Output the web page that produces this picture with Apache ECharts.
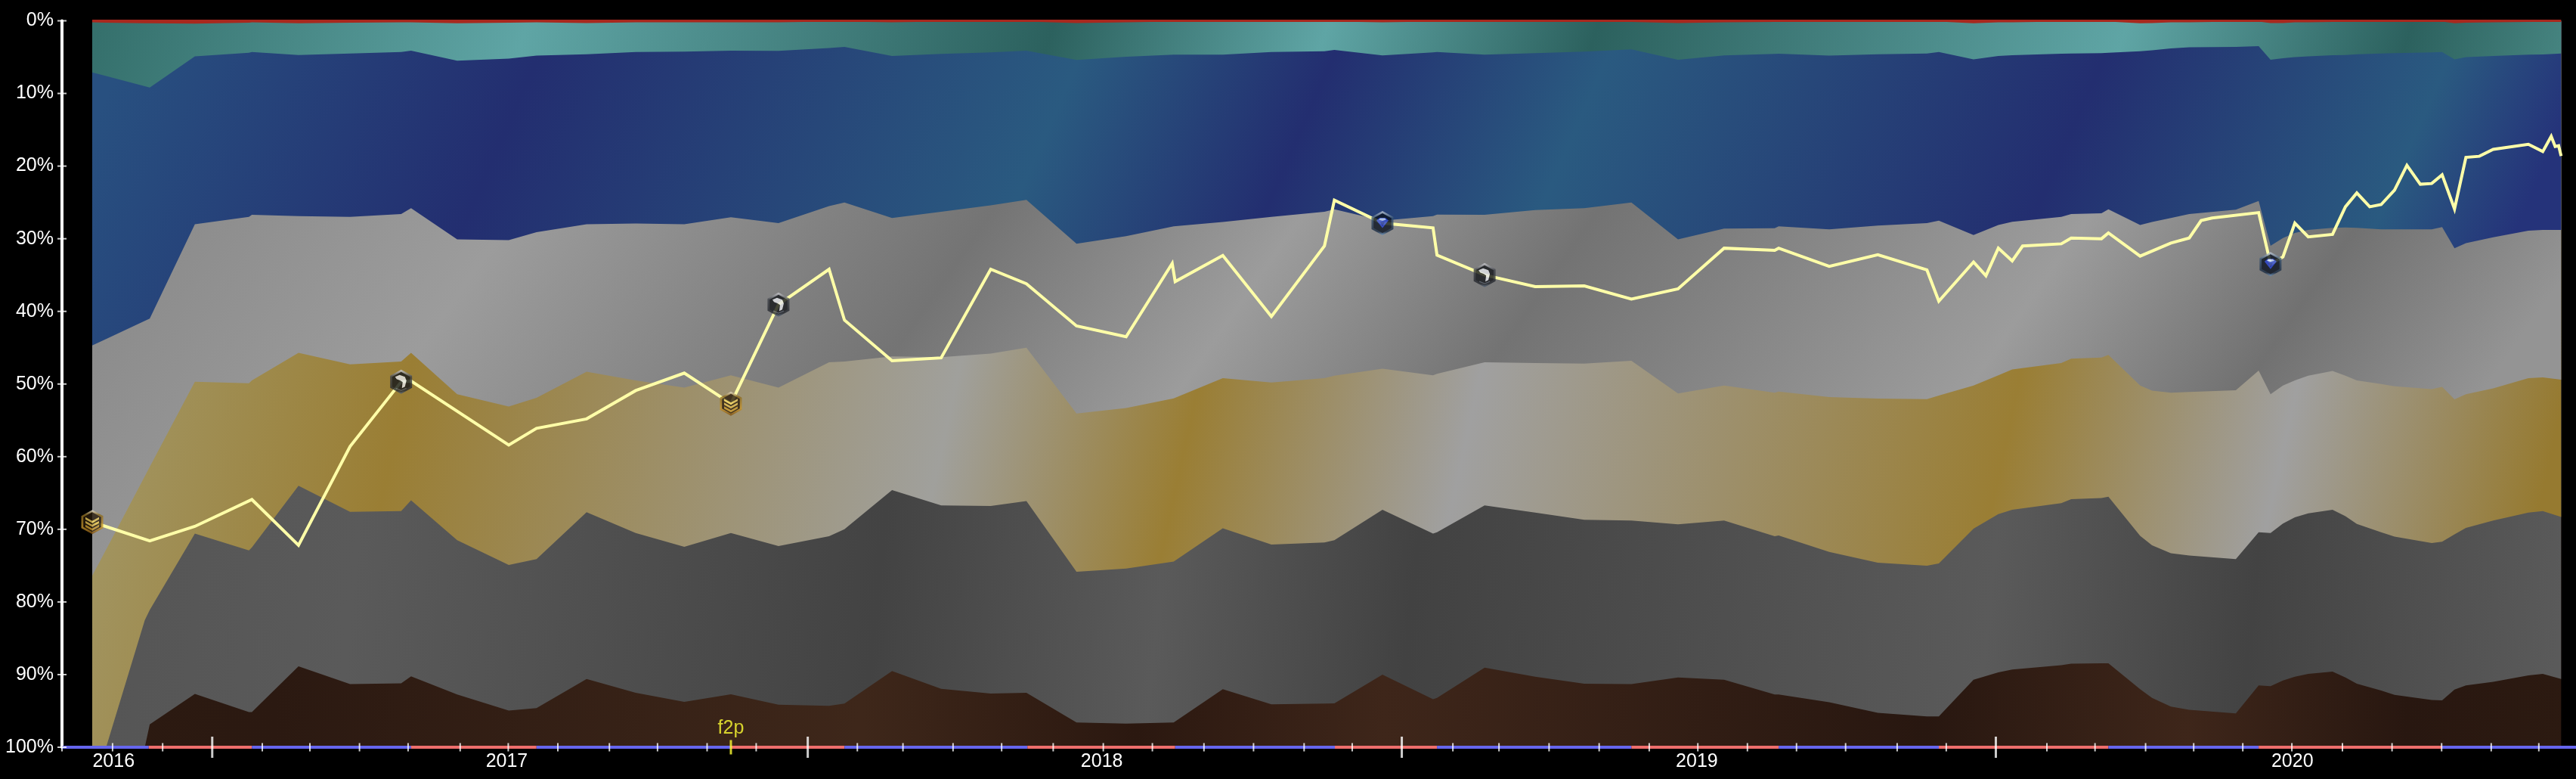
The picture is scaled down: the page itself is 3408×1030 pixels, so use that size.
<!DOCTYPE html>
<html>
<head>
<meta charset="utf-8">
<style>html,body{margin:0;padding:0;background:#000}#c{width:3408px;height:1030px}</style>
<script src="https://cdn.jsdelivr.net/npm/echarts@6/dist/echarts.min.js"></script>
</head>
<body>
<div id="c"></div>
<script>
// x unit: months since January 2016
const bandMonths = [
 3.61,3.89,4.67,4.77,5.68,6.77,6.83,7.77,8.81,9.84,
 10.04,10.97,12.01,12.57,13.58,14.57,15.55,16.49,17.45,18.47,
 18.78,19.74,20.73,21.73,22.45,23.46,24.46,25.42,26.41,27.39,
 28.46,28.66,29.63,30.65,30.73,31.69,32.71,33.70,34.65,35.59,
 36.52,37.54,37.62,38.64,39.62,40.61,40.85,41.55,42.05,42.33,
 43.32,43.52,44.13,44.27,44.91,45.15,45.53,45.90,46.84,47.30,
 47.54,47.79,48.03,48.30,48.79,49.05,49.28,49.77,50.04,50.79,
 51.00,51.25,51.48,52.03,52.74,53.03,53.40];
// lower edge of each band, in cumulative percent from the top
const redEdge = [
 .2,.25,.33,.35,.4,.25,.2,.35,.25,.2,
 .2,.35,.25,.2,.3,.2,.2,.2,.2,.1,
 .1,.2,.1,.1,.1,.3,.2,.1,.15,.1,
 .1,.1,.2,.1,.1,.1,.1,.1,.15,.3,
 .2,.15,.15,.1,.1,.1,.1,.35,.2,.2,
 .1,.1,.1,.1,.35,.3,.2,.2,.1,.1,
 .3,.3,.2,.2,.15,.15,.15,.1,.1,.1,
 .1,.35,.25,.2,.15,.15,.1];
const tealEdge = [
 7.1,7.6,9.0,9.2,4.9,4.4,4.3,4.7,4.5,4.3,
 4.1,5.5,5.2,4.8,4.6,4.3,4.25,4.1,4.15,3.75,
 3.6,4.85,4.56,4.35,4.1,5.4,4.95,4.67,4.67,4.3,
 4.2,4.0,4.77,4.35,4.3,4.67,4.46,4.25,3.94,5.36,
 4.77,4.56,4.53,4.8,4.6,4.5,4.3,5.3,4.85,4.74,
 4.53,4.5,4.45,4.4,4.2,4.05,3.8,3.65,3.6,3.5,
 5.36,5.15,5.0,4.9,4.74,4.7,4.6,4.5,4.45,4.35,
 4.3,5.3,5.0,4.85,4.65,4.63,4.5];
const blueEdge = [
 44.7,43.8,41.3,41.0,28,27,26.7,26.9,27,26.6,
 25.8,30.1,30.2,29.1,28,27.9,28,27.05,27.85,25.5,
 25,27.15,26.3,25.4,24.65,30.7,29.65,28.3,27.7,27,
 26.3,25.95,27.5,26.9,26.67,26.7,26.05,25.8,25,30.1,
 28.6,28.55,28.3,28.7,28.2,27.85,27.5,29.5,28.1,27.67,
 27,26.6,26.5,25.95,28.1,27.7,27.15,26.6,26,24.8,
 30.97,29.9,29.2,28.8,28.5,28.45,28.5,28.7,28.7,28.7,
 28.4,31.3,30.6,29.8,28.9,28.8,28.8];
const silverEdge = [
 76.4,72.8,62.7,61.4,49.7,49.9,49.5,45.7,47.3,46.9,
 45.7,51.4,53.1,51.9,48.3,49.5,50.5,48.8,50.5,47,
 46.9,46.2,46.3,45.8,45,54.05,53.3,51.97,49.2,49.8,
 49.2,48.85,47.9,48.8,48.6,47,47.1,47.2,46.8,51.3,
 50.2,51.2,51.05,51.8,52,52.07,51.6,50.2,48.8,48,
 47.1,46.5,46.35,46,50.2,50.9,51.2,51.1,50.85,48.15,
 51.4,50.2,49.5,48.85,48.2,48.85,49.5,50,50.3,50.7,
 50.4,52.1,51.4,50.6,49.2,49.1,49.4];
const goldEdge = [
 100,100,82.5,81.1,70.6,72.9,72.5,64,67.6,67.5,
 66,71.5,74.9,74.1,67.65,70.5,72.4,70.5,72.3,70.95,
 70,64.6,66.7,66.8,66.1,75.85,75.4,74.45,69.85,72.1,
 71.8,71.5,67.3,70.6,70.4,66.7,67.7,68.7,68.8,69.3,
 68.8,70.95,70.85,73.1,74.6,75,74.7,69.9,67.9,67.3,
 66.4,65.85,65.7,65.5,70.9,72.2,73.3,73.6,74.1,70.4,
 70.5,69.2,68.35,67.8,67.3,68.2,69.25,70.4,71,71.9,
 71.7,70.7,69.8,68.8,67.7,67.5,68.3];
const darkEdge = [
 100,100,100,96.85,92.65,95.15,95.15,88.85,91.3,91.2,
 90.25,92.75,94.95,94.6,90.6,92.5,93.75,92.7,94.15,94.3,
 94,89.5,91.95,92.6,92.5,96.6,96.75,96.6,92,94.1,
 94,93.95,90,93.4,93.2,89.05,90.3,91.25,91.3,90.4,
 90.7,92.75,92.75,93.8,95.25,95.75,95.75,90.7,89.7,89.3,
 88.7,88.5,88.45,88.45,92,93.2,94.4,94.85,95.35,91.5,
 91.6,90.8,90.3,89.9,89.6,90.4,91.25,92.2,92.8,93.5,
 93.55,92.05,91.5,91,90.1,89.9,90.6];
const brownEdge = bandMonths.map(() => 100);
const topEdge = bandMonths.map(() => 0);

const lineMonths = [
 3.61,4.77,5.68,6.83,7.77,8.81,9.84,10.04,12.01,12.57,13.58,14.57,15.55,16.49,17.45,18.47,18.78,
 19.74,20.73,21.73,22.45,23.46,24.46,25.39,25.45,26.41,27.39,28.46,28.66,29.63,30.65,30.73,31.69,
 32.71,33.70,34.65,35.59,36.52,37.54,37.62,38.64,39.62,40.61,40.85,41.55,41.80,42.05,42.33,42.54,
 43.32,43.52,44.13,44.27,44.91,45.53,45.90,46.14,46.36,47.30,47.54,47.79,48.03,48.30,48.79,49.05,
 49.28,49.54,49.77,50.04,50.29,50.56,50.79,51.00,51.25,51.48,51.75,52.03,52.74,53.03,53.20,53.28,53.35,53.40];
const lineValues = [
 69,71.6,69.6,65.9,72.2,58.6,49.7,49.6,58.4,56.1,54.8,50.9,48.5,52.7,39.06,34.2,41.2,
 46.8,46.4,34.2,36.2,42,43.5,33.4,35.9,32.3,40.7,31,24.7,27.85,28.5,32.25,35,
 36.6,36.5,38.3,36.9,31.3,31.6,31.3,33.8,32.2,34.3,38.6,33.2,35.1,31.3,33.05,31,
 30.7,29.9,30,29.2,32.4,30.6,29.9,27.5,27.15,26.4,33.5,32.5,27.85,29.75,29.4,25.6,
 23.7,25.6,25.3,23.3,19.9,22.5,22.4,21.2,25.9,18.8,18.65,17.7,17,18,15.9,17.3,17.2,18.6];

const goldRankPoints = [[3.61,69],[16.49,52.7]];
const eagleRankPoints = [[9.84,49.7],[17.45,39.06],[31.69,35]];
const diamondRankPoints = [[29.63,27.85],[47.54,33.5]];

const yTicks = [0,10,20,30,40,50,60,70,80,90,100];
const yearTicks = [4.04,11.97,23.97,35.97,47.98];
const yearLabels = ['2016','2017','2018','2019','2020'];
const minorTicks = [3,4.02,5.03,7.04,8,9,9.98,11.03,12,13,14.04,15.01,16.01,17,
 19.04,19.96,20.97,21.95,22.99,24,24.99,26.03,27.03,28.05,29.02,31.05,31.98,32.99,34,35.01,35.99,
 36.99,37.98,38.97,40.01,41,43.03,44,45.02,45.99,46.98,47.97,48.99,49.99,50.99,51.99,52.95];
const majorTicks = [6.03,18.04,30.02,42];
const f2pMonth = [16.49];
const seasonEdges = [3,4.75,6.83,10.04,12.57,16.49,18.78,22.47,25.45,28.67,30.73,34.65,37.62,40.85,44.27,47.3,51,53.7];

const W = 3408, PLOT_L = 82, PLOT_T = 27.5, PLOT_B = 988;
const chart = echarts.init(document.getElementById('c'), null, {renderer:'canvas', width:W, height:1030});

// horizontal ramp with a small tilt: stops are [x in px, colour] at height midY, tilt is the x shift per y px
function ramp(stops, midY, tilt) {
  const x0 = stops[0][0], x1 = stops[stops.length-1][0], span = x1 - x0, k = span/(1+tilt*tilt);
  return new echarts.graphic.LinearGradient(x0, midY, x0+k, midY+tilt*k,
    stops.map(s => ({offset:(s[0]-x0)/span, color:s[1]})), true);
}

function band(name, values, fill) {
  return {name, type:'line', data: bandMonths.map((m,i)=>[m,values[i]]), symbol:'none', silent:true, z:1,
    lineStyle:{width:0}, areaStyle:{origin:'start', color:fill, opacity:1}, animation:false};
}

function icon(defs, inner, rim) {
  const svg = `<svg xmlns="http://www.w3.org/2000/svg" width="30" height="33" viewBox="0 0 30 33"><defs>${defs}</defs>`+
   `<path d="M15 0.5L29.5 8.5V24.5L15 32.5L0.5 24.5V8.5Z" fill="url(#r)"/>`+
   `<path d="M15 3.5L26.8 10V23L15 29.5L3.2 23V10Z" fill="${rim}"/>${inner}</svg>`;
  return 'image://data:image/svg+xml;charset=utf-8,'+encodeURIComponent(svg);
}
const chev = (y,c) => `<path d="M6 ${y}L15 ${y+5}L24 ${y}V${y+3}L15 ${y+8}L6 ${y+3}Z" fill="${c}"/>`;
const goldIcon = icon('<linearGradient id="r" x1="0" y1="0" x2="0" y2="1"><stop offset="0" stop-color="#f0eadc"/><stop offset=".2" stop-color="#8a6a20"/><stop offset=".7" stop-color="#c8962c"/><stop offset="1" stop-color="#7a4d10"/></linearGradient>',
  chev(10,'#e6c65a')+chev(15,'#e0bb50')+chev(20,'#c99a30'), '#2a1c0c');
const eagleIcon = icon('<linearGradient id="r" x1="0" y1="0" x2="0" y2="1"><stop offset="0" stop-color="#d8d8dc"/><stop offset=".3" stop-color="#3c3f46"/><stop offset=".85" stop-color="#23262c"/><stop offset="1" stop-color="#5a6a80"/></linearGradient>',
  '<path d="M7 10L13 7.5L20 10L22 15L20 23L16 25L17 17L14 15L9 13Z" fill="#e4e6ea"/><path d="M8 25L15 28L22 25" fill="none" stroke="#555c68" stroke-width="1.2"/>', '#15171b');
const diamondIcon = icon('<linearGradient id="r" x1="0" y1="0" x2="0" y2="1"><stop offset="0" stop-color="#ccd4de"/><stop offset=".3" stop-color="#34506e"/><stop offset=".85" stop-color="#1a2a40"/><stop offset="1" stop-color="#6f9bc8"/></linearGradient>',
  '<path d="M7 13L11 9.5H19L23 13L15 23Z" fill="#2540d0"/><path d="M10 12L12 10H18L20 12L15 13.5Z" fill="#cfe0ff"/><path d="M12 15L15 21L18 15Z" fill="#1428a0"/>', '#0a1220');

function marks(name, points, sym) {
  return {name, type:'scatter', data:points, symbol:sym, symbolSize:[30,33], z:5, silent:true, clip:false, animation:false};
}
function ticks(name, data, w, h, color, extra) {
  return Object.assign({name, type:'scatter', data, symbol:'rect', symbolSize:[w,h], z:7, silent:true, clip:false, animation:false,
    itemStyle:{color}}, extra||{});
}

const option = {
  backgroundColor:'#000',
  animation:false,
  textStyle:{fontFamily:'"Liberation Sans",Arial,sans-serif'},
  grid:{left:PLOT_L, top:PLOT_T, right:0, bottom:1030-PLOT_B, containLabel:false},
  xAxis:{type:'value', min:3, max:53.7, splitLine:{show:false}, axisLine:{show:false}, axisTick:{show:false},
    axisLabel:{customValues:yearTicks, formatter:v=>yearLabels[yearTicks.indexOf(v)], color:'#fff',
      fontSize:25, margin:7, hideOverlap:false}},
  yAxis:{type:'value', inverse:true, min:0, max:100, interval:10, splitLine:{show:false},
    axisLine:{show:true, lineStyle:{color:'#fff', width:4}}, axisTick:{show:false},
    axisLabel:{color:'#fff', fontSize:25, margin:11, formatter:'{value}%'}},
  series:[
    band('Bronze', brownEdge, ramp([[122,'#2c1a11'],[363,'#2b1911'],[1140,'#3e271a'],[1504,'#2b1810'],[1831,'#3e261a'],[2546,'#281710'],[2894,'#3e261a'],[3184,'#281710'],[3388,'#2c1a11']],940,0)),
    band('Silver', darkEdge, ramp([[122,'#555555'],[465,'#5a5a5a'],[1160,'#434343'],[1533,'#5a5a5a'],[1867,'#424242'],[2633,'#5a5a5a'],[2981,'#434343'],[3388,'#5a5a5a']],800,0.1)),
    band('Gold', goldEdge, ramp([[122,'#a29664'],[523,'#9a7e34'],[1249,'#a0a09c'],[1570,'#9a7e34'],[1940,'#a0a0a0'],[2655,'#9a7e34'],[3024,'#a0a0a0'],[3380,'#967a30']],580,0.22)),
    band('Platinum', silverEdge, ramp([[122,'#8a8a8a'],[620,'#9c9c9c'],[1250,'#747474'],[1663,'#9c9c9c'],[2050,'#737373'],[2705,'#9c9c9c'],[3068,'#717171'],[3388,'#949494']],370,0.7)),
    band('Diamond', blueEdge, ramp([[122,'#285080'],[670,'#232e70'],[1387,'#2a5a80'],[1722,'#232e70'],[2085,'#2a5a80'],[2742,'#232e70'],[3199,'#2a5a80'],[3388,'#25337a']],170,0.44)),
    band('Master', tealEdge, ramp([[122,'#35706c'],[690,'#5fa5a5'],[1387,'#2c615e'],[1750,'#5fa5a5'],[2107,'#2c615e'],[2807,'#5fa5a5'],[3184,'#2c615e'],[3388,'#45837f']],55,0.3)),
    band('Grandmaster', redEdge, '#a8281e'),
    {name:'Top edge', type:'line', data:bandMonths.map((m,i)=>[m,topEdge[i]]), symbol:'none', silent:true, z:2, clip:false, animation:false,
      lineStyle:{color:'#a8281e', width:3}},
    {name:'Rank', type:'line', data:lineMonths.map((m,i)=>[m,lineValues[i]]), symbol:'none', z:4, silent:true, animation:false,
      lineStyle:{color:'#ffffa8', width:4, join:'miter'}},
    marks('Gold rank', goldRankPoints, goldIcon),
    marks('Platinum rank', eagleRankPoints, eagleIcon),
    marks('Diamond rank', diamondRankPoints, diamondIcon),
    {name:'Seasons', type:'custom', z:6, silent:true, clip:false, animation:false,
      data: seasonEdges.slice(0,-1).map((s,i)=>[s, seasonEdges[i+1], i%2]),
      encode:{x:[0,1]},
      renderItem:(p,api)=>{
        const a = api.coord([api.value(0),100]), b = api.coord([api.value(1),100]);
        return {type:'rect', shape:{x:a[0], y:a[1]-2, width:b[0]-a[0], height:4},
          style:{fill: api.value(2) ? '#ee6e6c' : '#6666ee'}};
      }},
    ticks('Month ticks', minorTicks.map(m=>[m,100]), 2, 11, '#fff'),
    ticks('Year ticks', majorTicks.map(m=>[m,100]), 3, 28, '#fff'),
    ticks('f2p', f2pMonth.map(m=>[m,100]), 3, 19, '#ffff33', {
      label:{show:true, position:'top', distance:3, formatter:'f2p', color:'#ffff33', fontSize:25}}),
    ticks('Y ticks', yTicks.map(v=>[3,v]), 12, 2, '#fff')
  ]
};
chart.setOption(option);
</script>
</body>
</html>
